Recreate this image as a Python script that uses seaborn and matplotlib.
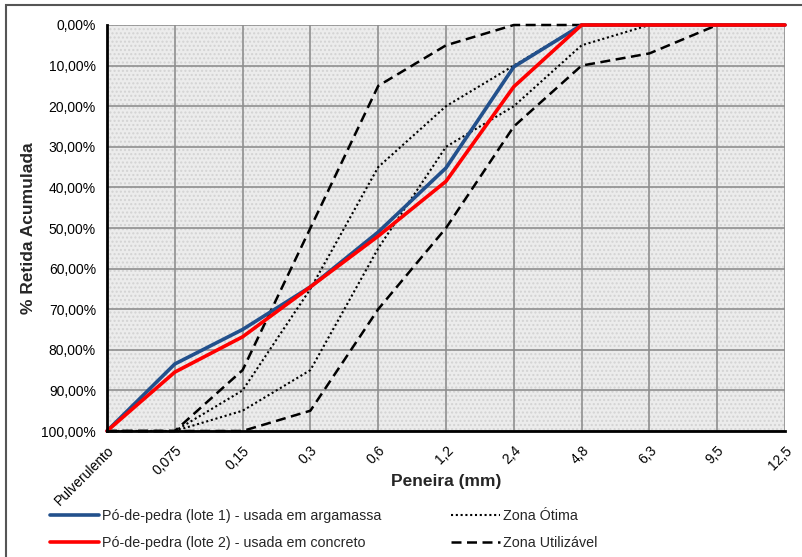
import numpy as np
import pandas as pd
import matplotlib
matplotlib.use("Agg")
import matplotlib.pyplot as plt
import seaborn as sns
from matplotlib.lines import Line2D
from matplotlib.patches import Rectangle

sns.set_theme(style="white")
plt.rcParams['font.family'] = ['Liberation Sans', 'DejaVu Sans']
plt.rcParams['hatch.linewidth'] = 1.0

# Sieve openings (mm)
peneiras = ["Pulverulento", "0,075", "0,15", "0,3", "0,6", "1,2", "2,4", "4,8", "6,3", "9,5", "12,5"]

# Cumulative retained (%) for the two stone-dust batches
lote1 = [100, 83.5, 75, 64.5, 51, 35.2, 10.3, 0, 0, 0, 0]
lote2 = [100, 85.5, 76.8, 64.5, 52, 38.5, 15.2, 0, 0, 0, 0]

# NBR 7211 grading zones (limits)
otima_inf = [100, 100, 90, 65, 35, 20, 10, 0, 0, 0, 0]
otima_sup = [100, 100, 95, 85, 55, 30, 20, 5, 0, 0, 0]
util_inf = [100, 100, 85, 50, 15, 5, 0, 0, 0, 0, 0]
util_sup = [100, 100, 100, 95, 70, 50, 25, 10, 7, 0, 0]

y_ticks = list(range(0, 101, 10))
y_labels = [f"{v:.2f}%".replace(".", ",") for v in y_ticks]

pos = np.arange(len(peneiras))
df = pd.DataFrame({"pos": pos, "lote1": lote1, "lote2": lote2,
                   "otima_inf": otima_inf, "otima_sup": otima_sup,
                   "util_inf": util_inf, "util_sup": util_sup})

W, H = 803, 557
fig = plt.figure(figsize=(W / 100, H / 100), dpi=100)
ax = fig.add_axes([107 / W, 1 - 431 / H, (785 - 107) / W, (431 - 25) / H])

# stippled plot background
ax.set_facecolor("#ececec")
ax.add_patch(Rectangle((0, 0), 1, 1, transform=ax.transAxes, facecolor="none",
                       edgecolor="#d3d3d3", hatch="....", lw=0, zorder=0))

blue, red = "#22508c", "#ff0000"
dot_style = dict(color="black", lw=1.5, dashes=(1, 1.3))
dash_style = dict(color="black", lw=1.8, dashes=(4, 2.2))

for col in ["otima_inf", "otima_sup"]:
    sns.lineplot(data=df, x="pos", y=col, ax=ax, **dot_style, clip_on=False, zorder=3)
for col in ["util_inf", "util_sup"]:
    sns.lineplot(data=df, x="pos", y=col, ax=ax, **dash_style, clip_on=False, zorder=3)
sns.lineplot(data=df, x="pos", y="lote1", ax=ax, color=blue, lw=2.6, clip_on=False, zorder=4)
sns.lineplot(data=df, x="pos", y="lote2", ax=ax, color=red, lw=2.6, clip_on=False, zorder=5)

ax.set_xlim(0, len(peneiras) - 1)
ax.set_ylim(100, 0)
ax.set_xticks(pos)
ax.set_xticklabels(peneiras, rotation=45, ha="right", rotation_mode="anchor", fontsize=10)
ax.set_yticks(y_ticks)
ax.set_yticklabels(y_labels, fontsize=10)
ax.grid(True, color="#8f8f8f", lw=1.2)
ax.set_axisbelow(True)

for s in ["top", "right"]:
    ax.spines[s].set_visible(False)
for s in ["left", "bottom"]:
    ax.spines[s].set_color("black")
    ax.spines[s].set_linewidth(2)
    ax.spines[s].set_zorder(6)

ax.tick_params(axis="both", direction="out", length=5, width=1.5, color="black",
               labelcolor="black", pad=3)
ax.tick_params(axis="x", pad=4)

ax.set_xlabel("Peneira (mm)", fontsize=12.5, fontweight="bold")
ax.xaxis.set_label_coords(0.5, -(474 - 431) / 406)
ax.set_ylabel("% Retida Acumulada", fontsize=12.5, fontweight="bold")
ax.yaxis.set_label_coords(-(107 - 36) / 678, 0.5)

# figure border
fig.patches.append(Rectangle((6 / W, -0.1), 1.2, 1 - 5 / H + 0.1, transform=fig.transFigure,
                             facecolor="none", edgecolor="#555555", lw=1.5))

leg_kw = dict(loc="upper left", frameon=False, handlelength=3.45, handletextpad=0.2,
              labelspacing=0.9, borderpad=0, borderaxespad=0,
              prop={"family": ["Liberation Sans", "DejaVu Sans"], "size": 10.3})
leg1 = fig.legend(
    [Line2D([], [], color=blue, lw=2.6), Line2D([], [], color=red, lw=2.6)],
    ["Pó-de-pedra (lote 1) - usada em argamassa", "Pó-de-pedra (lote 2) - usada em concreto"],
    bbox_to_anchor=(50 / W, 1 - 509 / H), **leg_kw)
leg2 = fig.legend(
    [Line2D([], [], **dot_style), Line2D([], [], **dash_style)],
    ["Zona Ótima", "Zona Utilizável"],
    bbox_to_anchor=(451 / W, 1 - 509 / H), **leg_kw)

fig.savefig("out.png", dpi=100)
